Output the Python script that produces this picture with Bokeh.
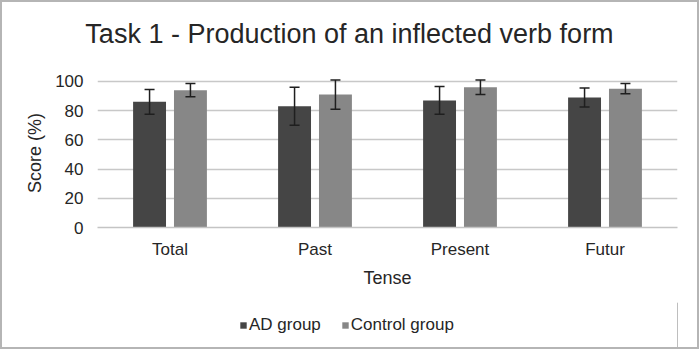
from bokeh.plotting import figure
from bokeh.layouts import column
from bokeh.models import (ColumnDataSource, FactorRange, Whisker, TeeHead, Legend,
                          LegendItem, Range1d, Div)
from bokeh.transform import dodge
from bokeh.embed import file_html
from bokeh.resources import INLINE

# Mean scores (%) and error-bar half widths per tense
tenses = ["Total", "Past", "Present", "Futur"]
ad_scores = [86, 83, 87, 89]
ad_err = [8.5, 13, 9.5, 6.5]
control_scores = [94, 91, 96, 95]
control_err = [4.5, 10, 5, 3.5]
y_ticks = [0, 20, 40, 60, 80, 100]
series_names = ["AD group", "Control group"]
chart_title = "Task 1 - Production of an inflected verb form"

FONT = "Liberation Sans"
AD_COLOR = "#454545"
CTRL_COLOR = "#878787"
TEXT = "#262626"
WIDTH = 695

# Title as a plain block, centred on the whole chart width
head = Div(text=chart_title, width=WIDTH, height=60,
           styles={"font-family": FONT, "font-size": "27px", "color": TEXT,
                   "text-align": "center", "line-height": "64px",
                   "white-space": "nowrap", "margin": "0", "padding": "0"})

src = ColumnDataSource(dict(
    tense=tenses,
    ad=ad_scores,
    ad_lo=[v - e for v, e in zip(ad_scores, ad_err)],
    ad_hi=[v + e for v, e in zip(ad_scores, ad_err)],
    ctrl=control_scores,
    ctrl_lo=[v - e for v, e in zip(control_scores, control_err)],
    ctrl_hi=[v + e for v, e in zip(control_scores, control_err)],
))

p = figure(width=WIDTH, height=230, x_range=FactorRange(factors=tenses, range_padding=0),
           y_range=Range1d(0, 102), output_backend="svg", toolbar_location=None,
           min_border_left=95, min_border_right=20, min_border_top=16,
           min_border_bottom=65)
p.outline_line_color = None
p.background_fill_color = "white"
p.border_fill_color = "white"

offset = 0.141
bar_w = 0.227
p.vbar(x=dodge("tense", -offset, range=p.x_range), top="ad", width=bar_w,
       source=src, fill_color=AD_COLOR, line_color=None)
p.vbar(x=dodge("tense", offset, range=p.x_range), top="ctrl", width=bar_w,
       source=src, fill_color=CTRL_COLOR, line_color=None)

for col, off in (("ad", -offset), ("ctrl", offset)):
    w = Whisker(base=dodge("tense", off, range=p.x_range), lower=f"{col}_lo",
                upper=f"{col}_hi", source=src, level="overlay",
                line_color="#1f1f1f", line_width=1.5,
                upper_head=TeeHead(size=10, line_color="#1f1f1f", line_width=1.5),
                lower_head=TeeHead(size=10, line_color="#1f1f1f", line_width=1.5))
    p.add_layout(w)

# Axes
p.yaxis.ticker = y_ticks
p.yaxis.axis_line_color = None
p.yaxis.major_tick_line_color = None
p.yaxis.minor_tick_line_color = None
p.yaxis.axis_label = "Score (%)"
p.xaxis.axis_label = "Tense"
p.xaxis.axis_line_color = "#c4c4c4"
p.xaxis.axis_line_width = 1.5
p.xaxis.major_tick_line_color = None
p.xaxis.minor_tick_line_color = None
for ax in (p.xaxis, p.yaxis):
    ax.major_label_text_font = FONT
    ax.major_label_text_font_size = "17px"
    ax.major_label_text_color = TEXT
    ax.axis_label_text_font = FONT
    ax.axis_label_text_font_size = "18px"
    ax.axis_label_text_font_style = "normal"
    ax.axis_label_text_color = TEXT
p.yaxis.major_label_standoff = 8
p.yaxis.axis_label_standoff = 7
p.xaxis.major_label_standoff = 6
p.xaxis.axis_label_standoff = 6

p.xgrid.grid_line_color = None
p.ygrid.ticker = y_ticks
p.ygrid.grid_line_color = "#c8c8c8"
p.ygrid.grid_line_width = 1.5

# Legend strip under the chart; its swatch bars sit outside the visible range
leg = figure(width=WIDTH, height=55, output_backend="svg", toolbar_location=None,
             min_border_left=0, min_border_right=0, min_border_top=10,
             min_border_bottom=0, x_range=(0, 1), y_range=(0, 1))
leg.axis.visible = False
leg.grid.visible = False
leg.outline_line_color = None
l_ad = leg.vbar(x=[5], top=[1], width=0.1, fill_color=AD_COLOR, line_color=None)
l_ctrl = leg.vbar(x=[5], top=[1], width=0.1, fill_color=CTRL_COLOR, line_color=None)
legend = Legend(items=[LegendItem(label=series_names[0], renderers=[l_ad]),
                       LegendItem(label=series_names[1], renderers=[l_ctrl])],
                orientation="horizontal", location=(142, 12),
                label_text_font=FONT, label_text_font_size="17px", label_text_color=TEXT,
                glyph_width=8, glyph_height=8, label_standoff=2, spacing=20,
                border_line_color=None, background_fill_alpha=0, margin=0, padding=0)
leg.add_layout(legend)

page = column(head, p, leg, spacing=0, styles={"border": "2px solid #b5b5b5"})
open("out.html", "w").write(file_html(page, INLINE))
